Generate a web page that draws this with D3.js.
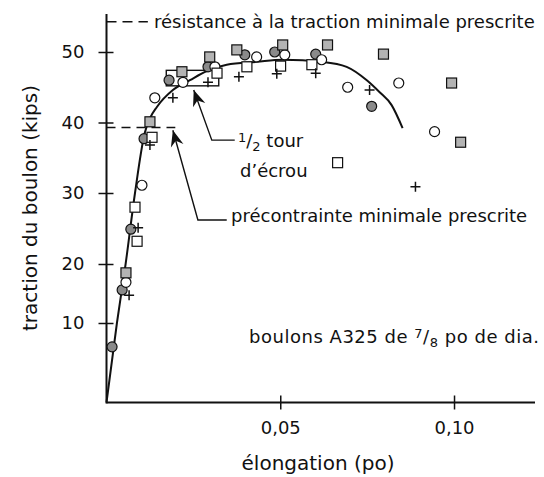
<!DOCTYPE html>
<html>
<head>
<meta charset="utf-8">
<script src="https://cdn.jsdelivr.net/npm/d3@7"></script>
<style>
  body { margin: 0; background: #fff; }
  text { font-family: "DejaVu Sans", sans-serif; fill: #111; }
</style>
</head>
<body>
<svg id="chart" width="544" height="477"></svg>
<script>
// elongation (po), bolt tension (kips)
const greyCircles = [[0.0016,7.0],[0.0045,15.6],[0.0070,24.9],[0.0108,37.7],[0.0180,46.0],
    [0.0292,47.9],[0.0398,49.6],[0.0484,50.0],[0.0602,49.7],[0.0763,42.3]];
const whiteCircles = [[0.0056,16.9],[0.0102,31.1],[0.0139,43.5],[0.0220,45.7],[0.0312,47.9],
    [0.0432,49.3],[0.0513,49.6],[0.0619,48.9],[0.0694,45.0],[0.0841,45.6],[0.0944,38.7]];
const greySquares = [[0.0056,18.5],[0.0125,40.1],[0.0217,47.2],[0.0297,49.3],[0.0375,50.3],
    [0.0507,51.0],[0.0636,51.0],[0.0797,49.7],[0.0993,45.6],[0.1019,37.2]];
const whiteSquares = [[0.0082,28.0],[0.0088,23.2],[0.0131,37.9],[0.0318,47.0],[0.0404,47.9],
    [0.0501,48.0],[0.0591,48.2],[0.0665,34.3]];
const crosses = [[0.0065,14.7],[0.0091,25.1],[0.0125,36.8],[0.0191,43.5],[0.0292,45.7],
    [0.0381,46.5],[0.0490,46.9],[0.0602,47.0],[0.0757,44.6],[0.0889,30.9]];

// mean curve
const curve = [[0,0],[0.0030,10],[0.0055,20],[0.0082,30.0],[0.0110,38.5],[0.0125,40.6],[0.0145,42.2],
    [0.0191,44.6],[0.0240,46.0],[0.0289,47.3],[0.0346,48.2],[0.0432,48.6],[0.0507,48.9],
    [0.0622,48.6],[0.0691,47.9],[0.0749,46.0],[0.0786,44.3],[0.0820,42.5],[0.0852,39.2]];

const halfTurnBox = {x: [0.0172, 0.0323], y: [45.2, 47.4]};
const minTensile = 54.3;
const minPretension = 39.3;
const pretensionEnd = 0.0198;

const xTicks = [0.05, 0.10];
const xTickLabels = ["0,05", "0,10"];
const yTicks = [10, 20, 30, 40, 50];

const svg = d3.select("#chart");
const fs = 18;

let x = d3.scaleLinear().domain([0, 0.1233]).range([106.5, 535]);
// the original drawing has uneven tick spacing
let y = d3.scaleLinear().domain([0, 10, 20, 30, 40, 50]).range([402.5, 323, 264, 193, 122.5, 52]);

// axes
let xAxis = d3.axisBottom(x).tickValues(xTicks).tickFormat((d, i) => xTickLabels[i])
    .tickSizeInner(7).tickSizeOuter(0).tickPadding(10);
let gx = svg.append("g").attr("transform", "translate(0," + y(0) + ")").call(xAxis);
gx.select(".domain").remove();
gx.selectAll(".tick line").attr("y1", -7).attr("stroke", "#111").attr("stroke-width", 1.5);
gx.selectAll(".tick text").attr("font-size", fs).attr("font-family", "DejaVu Sans").attr("fill", "#111")
    .attr("dy", null).attr("y", 31);

let yAxis = d3.axisLeft(y).tickValues(yTicks).tickSizeInner(8).tickSizeOuter(0).tickPadding(14);
let gy = svg.append("g").attr("transform", "translate(" + x(0) + ",0)").call(yAxis);
gy.select(".domain").remove();
gy.selectAll(".tick line").attr("x1", 7).attr("stroke", "#111").attr("stroke-width", 1.5);
gy.selectAll(".tick text").attr("font-size", fs).attr("font-family", "DejaVu Sans").attr("fill", "#111");

svg.append("line").attr("x1", x(0)).attr("x2", x(0)).attr("y1", y(0) + 1).attr("y2", y(55.4))
    .attr("stroke", "#111").attr("stroke-width", 2);
svg.append("line").attr("x1", x(0)).attr("x2", x(0.1233)).attr("y1", y(0)).attr("y2", y(0))
    .attr("stroke", "#111").attr("stroke-width", 2);

// axis titles
svg.append("text").attr("transform", "translate(37,208) rotate(-90)")
    .attr("text-anchor", "middle").attr("font-size", 20).text("traction du boulon (kips)");
svg.append("text").attr("x", 318).attr("y", 470)
    .attr("text-anchor", "middle").attr("font-size", 20).text("élongation (po)");

// reference dashed lines
svg.append("line").attr("x1", x(0)).attr("x2", x(0.0119)).attr("y1", y(minTensile)).attr("y2", y(minTensile))
    .attr("stroke", "#111").attr("stroke-width", 1.6).attr("stroke-dasharray", "10,6");
svg.append("text").attr("x", 154).attr("y", 28).attr("font-size", fs)
    .text("résistance à la traction minimale prescrite");

svg.append("line").attr("x1", x(0)).attr("x2", x(pretensionEnd)).attr("y1", y(minPretension)).attr("y2", y(minPretension))
    .attr("stroke", "#111").attr("stroke-width", 1.6).attr("stroke-dasharray", "9,6");

// half turn box
svg.append("rect").attr("x", x(halfTurnBox.x[0])).attr("y", y(halfTurnBox.y[1]))
    .attr("width", x(halfTurnBox.x[1]) - x(halfTurnBox.x[0]))
    .attr("height", y(halfTurnBox.y[0]) - y(halfTurnBox.y[1]))
    .attr("fill", "none").attr("stroke", "#111").attr("stroke-width", 1.4);

// curve
let line = d3.line().x(d => x(d[0])).y(d => y(d[1])).curve(d3.curveMonotoneX);
svg.append("path").datum(curve).attr("d", line).attr("fill", "none")
    .attr("stroke", "#111").attr("stroke-width", 2);

// markers
let marks = svg.append("g");
marks.selectAll(".gc").data(greyCircles).enter().append("circle")
    .attr("cx", d => x(d[0])).attr("cy", d => y(d[1])).attr("r", 5)
    .attr("fill", "#8a8a8a").attr("stroke", "#111").attr("stroke-width", 1.2);
marks.selectAll(".wc").data(whiteCircles).enter().append("circle")
    .attr("cx", d => x(d[0])).attr("cy", d => y(d[1])).attr("r", 5)
    .attr("fill", "#fff").attr("stroke", "#111").attr("stroke-width", 1.2);
marks.selectAll(".gs").data(greySquares).enter().append("rect")
    .attr("x", d => x(d[0]) - 5).attr("y", d => y(d[1]) - 5).attr("width", 10).attr("height", 10)
    .attr("fill", "#b3b3b3").attr("stroke", "#111").attr("stroke-width", 1.2);
marks.selectAll(".ws").data(whiteSquares).enter().append("rect")
    .attr("x", d => x(d[0]) - 5).attr("y", d => y(d[1]) - 5).attr("width", 10).attr("height", 10)
    .attr("fill", "#fff").attr("stroke", "#111").attr("stroke-width", 1.2);
marks.selectAll(".cr").data(crosses).enter().append("path")
    .attr("d", d => "M" + (x(d[0]) - 5) + "," + y(d[1]) + "h10M" + x(d[0]) + "," + (y(d[1]) - 5) + "v10")
    .attr("stroke", "#111").attr("stroke-width", 1.5);

// annotations with arrows
const arrows = [
    {tip: [0.0251, 44.6], elbow: [0.0303, 37.5], end: [0.0369, 37.5]},
    {tip: [0.0191, 38.9], elbow: [0.0263, 26.2], end: [0.0346, 26.2]}
];
arrows.forEach(a => {
    let t = [x(a.tip[0]), y(a.tip[1])], e = [x(a.elbow[0]), y(a.elbow[1])], n = [x(a.end[0]), y(a.end[1])];
    let ang = Math.atan2(t[1] - e[1], t[0] - e[0]) * 180 / Math.PI;
    svg.append("path").attr("d", "M" + n[0] + "," + n[1] + "L" + e[0] + "," + e[1] + "L" + t[0] + "," + t[1])
        .attr("fill", "none").attr("stroke", "#111").attr("stroke-width", 1.4);
    svg.append("path").attr("d", "M0,0L-16,-6.5L-11,0L-16,6.5Z")
        .attr("transform", "translate(" + t[0] + "," + t[1] + ") rotate(" + ang + ")")
        .attr("fill", "#111");
});

let t1 = svg.append("text").attr("x", 238).attr("y", 147).attr("font-size", fs);
t1.append("tspan").attr("font-size", 13).attr("dy", -5).text("1");
t1.append("tspan").attr("dy", 5).text("/");
t1.append("tspan").attr("font-size", 13).attr("dy", 4).text("2");
t1.append("tspan").attr("dy", -4).text(" tour");
svg.append("text").attr("x", 240).attr("y", 177).attr("font-size", fs).text("d\u2019écrou");
svg.append("text").attr("x", 231).attr("y", 222).attr("font-size", fs).text("précontrainte minimale prescrite");

let t2 = svg.append("text").attr("x", 249).attr("y", 343).attr("font-size", fs)
    .attr("textLength", 290).attr("lengthAdjust", "spacing");
t2.append("tspan").text("boulons A325 de ");
t2.append("tspan").attr("font-size", 13).attr("dy", -5).text("7");
t2.append("tspan").attr("dy", 5).text("/");
t2.append("tspan").attr("font-size", 13).attr("dy", 4).text("8");
t2.append("tspan").attr("dy", -4).text(" po de dia.");
</script>
</body>
</html>
